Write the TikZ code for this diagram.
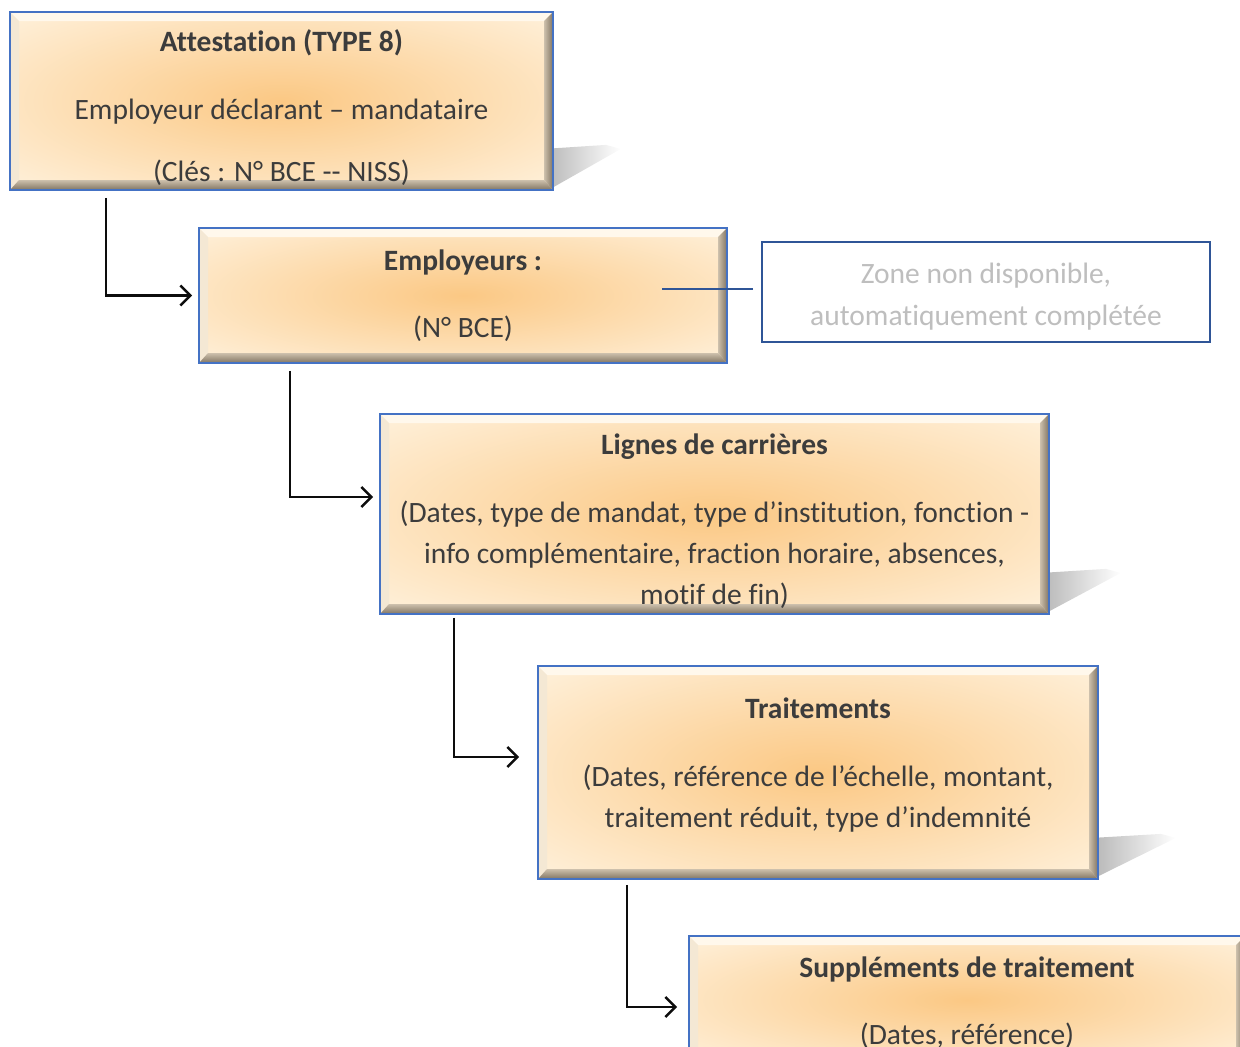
\documentclass[tikz,border=0pt]{standalone}
\usepackage{fontspec}
\setmainfont{Carlito}[Ligatures={TeX,NoCommon}]
\usetikzlibrary{arrows.meta,backgrounds}

\definecolor{boxblue}{RGB}{68,114,196}
\definecolor{zoneblue}{RGB}{47,85,151}
\definecolor{glowin}{RGB}{251,200,132}
\definecolor{glowout}{RGB}{255,244,226}
\definecolor{bevtop}{RGB}{255,248,236}
\definecolor{bevleft}{RGB}{244,232,212}
\definecolor{bevdark}{RGB}{128,116,98}
\definecolor{bevlight}{RGB}{205,192,172}
\definecolor{txtgray}{RGB}{60,60,60}
\definecolor{zonetxt}{RGB}{190,190,190}

\pgfdeclareradialshading{boxglow}{\pgfpoint{0bp}{0bp}}{color(0bp)=(glowin); color(38bp)=(glowout); color(50bp)=(glowout)}

\tikzset{
  bevelbox/.style={draw=boxblue, line width=1.8pt, shade, shading=boxglow, text=txtgray,
    align=center, inner sep=0pt, font=\fontsize{29.5}{41}\selectfont,
    path picture={
      \coordinate (nw) at (path picture bounding box.north west);
      \coordinate (ne) at (path picture bounding box.north east);
      \coordinate (sw) at (path picture bounding box.south west);
      \coordinate (se) at (path picture bounding box.south east);
      \fill[bevtop] (nw) -- (ne) -- ([shift={(-9pt,-9pt)}]ne) -- ([shift={(9pt,-9pt)}]nw) -- cycle;
      \fill[bevleft] (nw) -- ([shift={(9pt,-9pt)}]nw) -- ([shift={(9pt,10pt)}]sw) -- (sw) -- cycle;
      \shade[left color=bevlight, right color=bevdark] (ne) -- ([shift={(-9pt,-9pt)}]ne) -- ([shift={(-9pt,10pt)}]se) -- (se) -- cycle;
      \shade[top color=bevlight, bottom color=bevdark] (sw) -- (se) -- ([shift={(-9pt,10pt)}]se) -- ([shift={(9pt,10pt)}]sw) -- cycle;
    }},
  zonebox/.style={draw=zoneblue, line width=1.8pt, fill=white, text=zonetxt, align=center,
    inner sep=0pt, font=\fontsize{29.5}{42}\selectfont},
  flow/.style={draw=black!95, line width=2.5pt, -{Straight Barb[length=10pt,width=20pt,line width=2.5pt]}},
  zonelink/.style={draw=zoneblue, line width=2pt}
}

\begin{document}
\begin{tikzpicture}[x=1pt,y=-1pt]
  \useasboundingbox (0,0) rectangle (1240,1047);

  % boites
  \node[bevelbox, minimum width=543pt, minimum height=178pt] (attest) at (281.5,101)
    {\rule{0pt}{35pt}\textbf{Attestation (TYPE 8)}\\[27pt]Employeur déclarant – mandataire\\[21pt](Clés : N° BCE -{}- NISS)};
  \node[bevelbox, minimum width=528pt, minimum height=135pt] (emp) at (463,295.5)
    {\textbf{Employeurs :}\\[26pt](N° BCE)};
  \node[zonebox, minimum width=448pt, minimum height=100pt] (zone) at (986,292)
    {\rule{0pt}{29pt}Zone non disponible,\\automatiquement complétée};
  \node[bevelbox, minimum width=669pt, minimum height=200pt] (lignes) at (714.5,514)
    {\rule{0pt}{35pt}\textbf{Lignes de carrières}\\[27pt](Dates, type de mandat, type d’institution, fonction -\\info complémentaire, fraction horaire, absences,\\motif de fin)};
  \node[bevelbox, minimum width=560pt, minimum height=213pt] (trait) at (818,772.5)
    {\textbf{Traitements}\\[27pt](Dates, référence de l’échelle, montant,\\traitement réduit, type d’indemnité\rule[-20pt]{0pt}{0pt}};
  \node[bevelbox, minimum width=556pt, minimum height=128pt] (suppl) at (967,1000)
    {\rule{0pt}{27pt}\textbf{Suppléments de traitement}\\[26pt](Dates, référence)};

  % ombres
  \begin{scope}[on background layer]
    \foreach \b/\l in {attest/67,lignes/71,trait/77}
      \shade[left color=black!40, right color=white]
        ([xshift=-40pt]\b.south east) -- ([yshift=4pt]\b.south east) -- ([shift={(\l pt,42pt)}]\b.south east)
        -- ([shift={(\l pt-15pt,46pt)}]\b.south east) -- ([shift={(-40pt,40pt)}]\b.south east) -- cycle;
  \end{scope}

  % liens
  \draw[flow] ([shift={(97pt,-7pt)}]attest.south west) |- ([xshift=-6pt]emp.west);
  \draw[flow] ([shift={(92pt,-7pt)}]emp.south west) |- ([shift={(-6pt,17pt)}]lignes.west);
  \draw[flow] ([shift={(75pt,-3pt)}]lignes.south west) |- ([shift={(-18pt,15.5pt)}]trait.west);
  \draw[flow] ([shift={(90pt,-5pt)}]trait.south west) |- ([shift={(-11pt,-7pt)}]suppl.west);
  \draw[zonelink] ([shift={(-8pt,3pt)}]zone.west) -- ([shift={(-66pt,6.5pt)}]emp.east);
\end{tikzpicture}
\end{document}
